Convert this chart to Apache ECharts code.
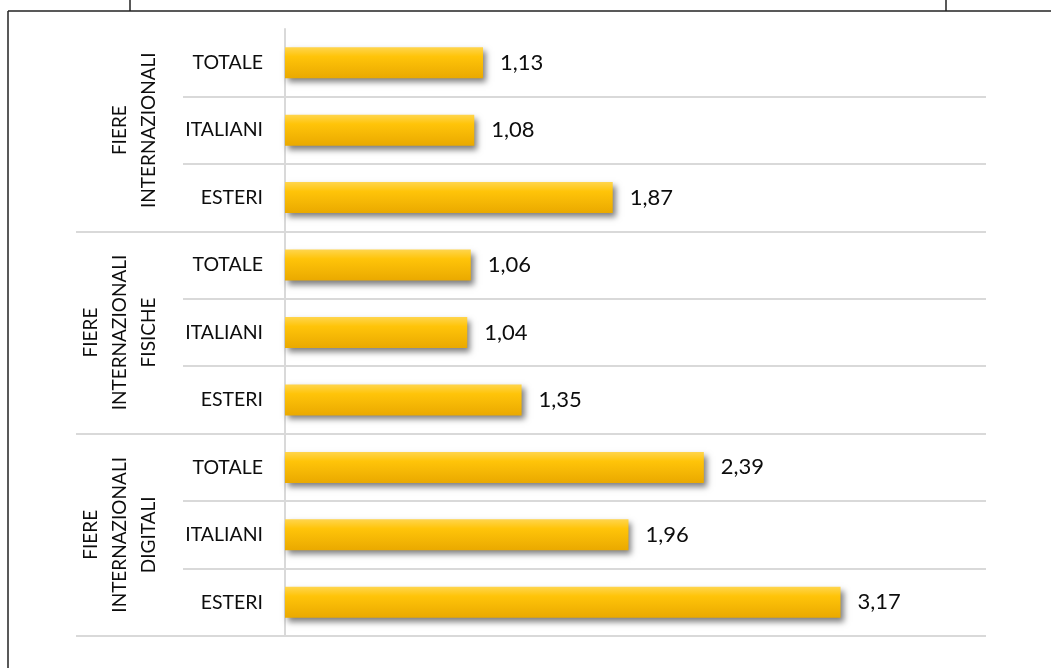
<!DOCTYPE html>
<html>
<head>
<meta charset="utf-8">
<script src="https://cdn.jsdelivr.net/npm/echarts@6/dist/echarts.min.js"></script>
<style>
  html, body { margin: 0; padding: 0; background: #ffffff; }
  #chart { width: 1051px; height: 668px; }
</style>
</head>
<body>
<div id="chart"></div>
<script>
// Sub-categories shown on each row (top to bottom)
const rowLabels = ['TOTALE', 'ITALIANI', 'ESTERI', 'TOTALE', 'ITALIANI', 'ESTERI', 'TOTALE', 'ITALIANI', 'ESTERI'];
// Fair groups, each spanning three rows
const groupLabels = ['FIERE\nINTERNAZIONALI', 'FIERE\nINTERNAZIONALI\nFISICHE', 'FIERE\nINTERNAZIONALI\nDIGITALI'];
// Values per row
const values = [1.13, 1.08, 1.87, 1.06, 1.04, 1.35, 2.39, 1.96, 3.17];

const FONT = 'Lato, "Liberation Sans", sans-serif';
const GRID_COLOR = '#d9d9d9';
const fmt = v => v.toFixed(2).replace('.', ',');
const skipTop = i => i !== 0;

const chart = echarts.init(document.getElementById('chart'), null, { renderer: 'canvas' });

chart.setOption({
  backgroundColor: '#ffffff',
  animation: false,
  grid: { left: 285, right: 65, top: 29, bottom: 32, containLabel: false },
  xAxis: {
    type: 'value',
    min: 0,
    max: 4,
    show: false
  },
  yAxis: [
    {
      type: 'category',
      data: rowLabels,
      inverse: true,
      position: 'left',
      axisLine: { show: true, lineStyle: { color: GRID_COLOR, width: 2 } },
      axisTick: { show: true, length: 102, interval: skipTop, lineStyle: { color: GRID_COLOR, width: 2 } },
      splitLine: { show: true, interval: skipTop, lineStyle: { color: GRID_COLOR, width: 2 } },
      axisLabel: { interval: 0, margin: 22, color: '#0d0d0d', fontFamily: FONT, fontSize: 19.5 }
    },
    {
      type: 'category',
      data: groupLabels,
      inverse: true,
      position: 'left',
      offset: 102,
      axisLine: { show: false },
      axisTick: { show: true, length: 107, interval: skipTop, lineStyle: { color: GRID_COLOR, width: 2 } },
      splitLine: { show: false },
      axisLabel: {
        interval: 0,
        rotate: 90,
        margin: 20,
        align: 'center',
        verticalAlign: 'bottom',
        lineHeight: 29,
        color: '#0d0d0d',
        fontFamily: FONT,
        fontSize: 19
      }
    }
  ],
  series: [
    {
      type: 'bar',
      yAxisIndex: 0,
      data: values,
      barWidth: 31,
      itemStyle: {
        color: new echarts.graphic.LinearGradient(0, 0, 0, 1, [
          { offset: 0, color: '#ffd54d' },
          { offset: 0.3, color: '#ffc409' },
          { offset: 1, color: '#eaa900' }
        ]),
        shadowColor: 'rgba(0,0,0,0.5)',
        shadowBlur: 6,
        shadowOffsetX: 3,
        shadowOffsetY: 4
      },
      label: {
        show: true,
        position: 'right',
        distance: 17,
        color: '#0d0d0d',
        fontFamily: FONT,
        fontSize: 22,
        formatter: p => fmt(p.value)
      }
    }
  ],
  graphic: [
    // surrounding frame
    { type: 'line', shape: { x1: 8, y1: 11, x2: 1051, y2: 11 }, style: { stroke: '#222222', lineWidth: 1.5 } },
    { type: 'line', shape: { x1: 8, y1: 11, x2: 8, y2: 668 }, style: { stroke: '#222222', lineWidth: 1.5 } },
    { type: 'line', shape: { x1: 130, y1: 0, x2: 130, y2: 11 }, style: { stroke: '#222222', lineWidth: 1.5 } },
    { type: 'line', shape: { x1: 946, y1: 0, x2: 946, y2: 11 }, style: { stroke: '#222222', lineWidth: 1.5 } }
  ]
});
</script>
</body>
</html>
